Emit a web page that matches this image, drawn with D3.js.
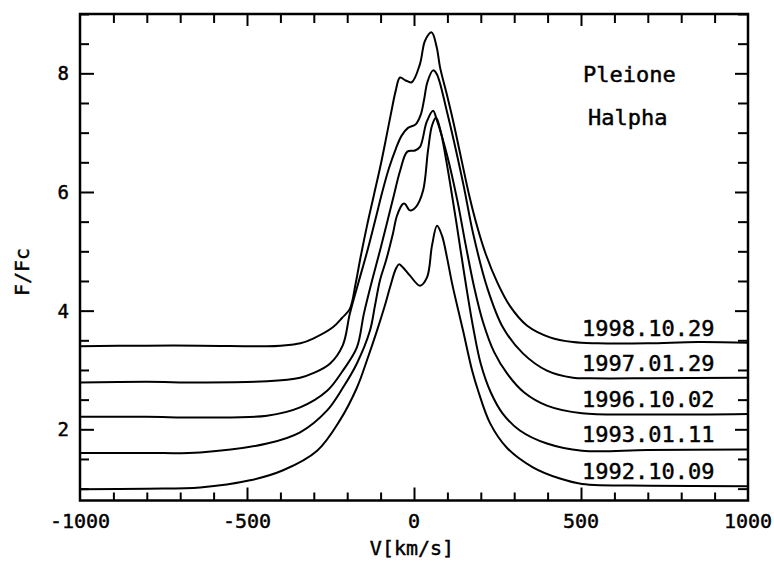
<!DOCTYPE html>
<meta charset="utf-8">
<style>
  body { margin: 0; background: #fff; }
  svg { position: absolute; top: 0; left: 0; }
  text {
    font-family: 'DejaVu Sans Mono', monospace;
    fill: #000;
    stroke: #000;
    stroke-width: 0.45px;
  }
  .profile {
    fill: none;
    stroke: #000;
    stroke-width: 2px;
    stroke-linejoin: round;
  }
  .frame { fill: none; stroke: #000; stroke-width: 2.5px; }
  .tick line { stroke: #000; stroke-width: 2px; }
</style>
<script src="https://d3js.org/d3.v7.min.js"></script>

<svg width="774" height="561"></svg>

<script>
// velocity [km/s], F/Fc
var p1998 = [[-1000,3.40],[-800,3.41],[-640,3.41],[-440,3.40],[-400,3.41],[-340,3.45],[-302,3.53],[-243,3.72],[-215,3.88],[-192,4.03],
  [-175,4.45],[-160,4.90],[-140,5.45],[-120,5.95],[-100,6.45],[-82,6.95],[-68,7.35],[-55,7.70],[-42,7.93],[-25,7.88],
  [-7,7.85],[18,8.16],[33,8.55],[53,8.69],[68,8.44],[78,8.10],[98,7.65],[117,7.20],[140,6.60],[165,5.95],[190,5.40],[215,4.95],
  [249,4.48],[287,4.08],[338,3.75],[407,3.55],[476,3.47],[550,3.45],[700,3.45],[850,3.47],[1000,3.46]];
var p1997 = [[-1000,2.79],[-800,2.80],[-640,2.79],[-440,2.81],[-341,2.87],[-300,2.95],[-251,3.11],[-213,3.42],[-192,3.95],[-165,4.50],
  [-140,5.00],[-115,5.55],[-95,6.00],[-75,6.40],[-55,6.72],[-37,6.95],[-18,7.08],[5,7.14],[20,7.30],[30,7.55],[40,7.85],[57,8.05],
  [68,7.99],[98,7.37],[147,6.15],[177,5.30],[219,4.39],[266,3.72],[326,3.28],[398,2.99],[476,2.87],[527,2.86],[700,2.86],[1000,2.87]];
var p1996 = [[-1000,2.21],[-800,2.21],[-640,2.20],[-440,2.23],[-341,2.37],[-260,2.65],[-213,2.99],[-171,3.38],[-150,3.95],[-125,4.52],
  [-100,5.05],[-80,5.50],[-60,5.95],[-42,6.35],[-20,6.68],[3,6.70],[18,6.76],[38,7.18],[57,7.37],[69,7.20],[100,6.60],[130,5.85],
  [155,5.10],[180,4.40],[207,3.80],[240,3.30],[280,2.93],[330,2.62],[398,2.40],[503,2.27],[700,2.25],[1000,2.26]];
var p1993 = [[-1000,1.60],[-800,1.60],[-640,1.61],[-440,1.76],[-341,1.95],[-260,2.32],[-213,2.70],[-171,3.11],[-132,3.66],[-117,4.08],
  [-102,4.51],[-84,4.84],[-63,5.30],[-51,5.60],[-33,5.80],[-27,5.80],[-12,5.69],[6,5.75],[27,6.02],[42,6.70],[54,7.12],[66,7.25],
  [80,7.02],[95,6.58],[110,6.08],[125,5.55],[140,5.00],[158,4.35],[177,3.72],[200,3.10],[230,2.62],[265,2.27],[317,1.98],[398,1.76],
  [503,1.64],[700,1.65],[1000,1.66]];
var p1992 = [[-1000,0.99],[-800,1.00],[-640,1.02],[-491,1.14],[-392,1.31],[-290,1.64],[-222,2.15],[-171,2.70],[-138,3.21],[-111,3.66],
  [-87,4.09],[-72,4.39],[-54,4.71],[-45,4.78],[-35,4.74],[-12,4.59],[18,4.42],[39,4.56],[54,5.10],[69,5.43],[84,5.26],[99,4.89],
  [114,4.46],[147,3.66],[174,2.99],[192,2.65],[228,2.10],[278,1.69],[356,1.36],[437,1.17],[503,1.08],[707,1.05],[1000,1.04]];

var dates = ["1998.10.29", "1997.01.29", "1996.10.02", "1993.01.11", "1992.10.09"];
var profiles = [p1998, p1997, p1996, p1993, p1992];

var xTickLabels = [-1000, -500, 0, 500, 1000];
var yTickLabels = [2, 4, 6, 8];
var xMinor = d3.range(-900, 901, 100);
var yMinor = d3.range(1, 9.01, 0.5);

var svg = d3.select("svg");

var x = d3.scaleLinear().domain([-1000, 1000]).range([80, 748]);
var y = d3.scaleLinear().domain([0.8, 9.0]).range([500.5, 14]);

// ticks, all pointing inward
function isMajorX(v) { return v % 500 === 0; }
function isMajorY(v) { return v % 2 === 0; }

var gb = svg.append("g").attr("transform", "translate(0," + y(0.8) + ")")
  .call(d3.axisBottom(x).tickValues(xMinor).tickFormat(""));
gb.selectAll(".tick line").attr("y2", function(d) { return isMajorX(d) ? -13 : -8; });

var gt = svg.append("g").attr("transform", "translate(0," + y(9.0) + ")")
  .call(d3.axisTop(x).tickValues(xMinor).tickFormat(""));
gt.selectAll(".tick line").attr("y2", function(d) { return isMajorX(d) ? 12 : 9; });

var gl = svg.append("g").attr("transform", "translate(" + x(-1000) + ",0)")
  .call(d3.axisLeft(y).tickValues(yMinor).tickFormat(""));
gl.selectAll(".tick line").attr("x2", function(d) { return isMajorY(d) ? 14 : 9; });

var gr = svg.append("g").attr("transform", "translate(" + x(1000) + ",0)")
  .call(d3.axisRight(y).tickValues(yMinor).tickFormat(""));
gr.selectAll(".tick line").attr("x2", function(d) { return isMajorY(d) ? -13 : -10; });

svg.selectAll(".domain").remove();

svg.append("rect").attr("class", "frame")
  .attr("x", x(-1000)).attr("y", y(9.0))
  .attr("width", x(1000) - x(-1000)).attr("height", y(0.8) - y(9.0));

// tick labels
svg.selectAll(".xlab").data(xTickLabels).enter().append("text")
  .attr("x", function(d) { return x(d); })
  .attr("y", 528)
  .attr("text-anchor", "middle")
  .style("font-size", "20px")
  .text(function(d) { return d; });

svg.selectAll(".ylab").data(yTickLabels).enter().append("text")
  .attr("x", 69)
  .attr("y", function(d) { return y(d) + 7; })
  .attr("text-anchor", "end")
  .style("font-size", "19px")
  .text(function(d) { return d; });

svg.append("text")
  .attr("x", 412).attr("y", 555)
  .attr("text-anchor", "middle")
  .style("font-size", "20px")
  .text("V[km/s]");

svg.append("text")
  .attr("transform", "translate(29,272) rotate(-90)")
  .attr("text-anchor", "middle")
  .style("font-size", "20px")
  .text("F/Fc");

svg.append("text").attr("x", 583).attr("y", 82).style("font-size", "22px").text("Pleione");
svg.append("text").attr("x", 588).attr("y", 125).style("font-size", "22px").text("Halpha");

// profiles
var line = d3.line()
  .x(function(d) { return x(d[0]); })
  .y(function(d) { return y(d[1]); })
  .curve(d3.curveCatmullRom.alpha(0.5));

svg.selectAll(".profile").data(profiles).enter().append("path")
  .attr("class", "profile")
  .attr("d", line);

svg.selectAll(".date").data(profiles).enter().append("text")
  .attr("x", 582)
  .attr("y", function(d) { return y(d[d.length - 1][1]) - 7; })
  .style("font-size", "22px")
  .text(function(d, i) { return dates[i]; });
</script>
